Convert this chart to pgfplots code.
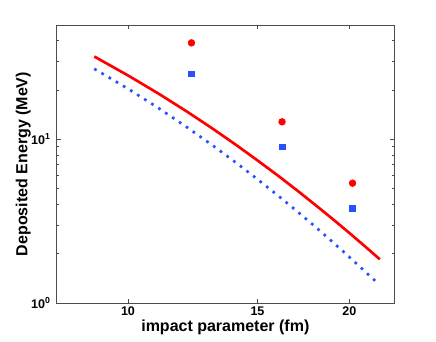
\documentclass[border=0pt]{standalone}
\usepackage{fontspec}
\setmainfont{Liberation Sans}
\usepackage{pgfplots}
\pgfplotsset{compat=1.18}
\definecolor{mred}{RGB}{255,0,0}
\definecolor{mblue}{RGB}{40,80,255}

\begin{document}
\begin{tikzpicture}
\begin{axis}[name=ax,xmode=log,ymode=log,scale only axis,width=202.4pt,height=166.8pt,
xmin=8,xmax=23,ymin=1,ymax=50,
xtick={10,15,20},xticklabels={10,15,20},xminorticks=false,
ytick={1,10},yticklabels={10\textsuperscript{0},10\textsuperscript{1}},
minor ytick={2,3,4,5,6,7,8,9,20,30,40},
axis line style={black!70,line width=0.6pt},tick style={black!70,line width=0.5pt},
major tick length=2.4pt,minor tick length=1.4pt,
tick label style={font=\bfseries\fontsize{7.5}{9}\selectfont},
xticklabel style={inner sep=1pt,yshift=-1pt},
xlabel={impact parameter (fm)},ylabel={Deposited Energy (MeV)},
label style={font=\bfseries\fontsize{9.6}{11}\selectfont},
xlabel style={at={(axis description cs:0.5,-0.087)},anchor=center,inner sep=0pt},
ylabel style={at={(axis description cs:-0.099,0.5)},anchor=center}]
% model curves
\addplot[mred,line width=1.6pt,line join=round,no markers] coordinates {(9,32.1)(10,24.6)(11,19.06)(12,14.89)(13,11.73)(14,9.31)(15,7.44)(16,6.00)(17,4.86)(18,3.96)(19,3.25)(20,2.68)(21,2.22)(22,1.85)};
\addplot[mblue,line width=1.6pt,dash pattern=on 1.6pt off 3.4pt,no markers] coordinates {(9,27.0)(10,20.4)(11,15.55)(12,11.95)(13,9.27)(14,7.25)(15,5.71)(16,4.53)(17,3.62)(18,2.91)(19,2.35)(20,1.91)(21,1.56)(21.95,1.30)};
% data points
\addplot[only marks,mark=*,mark size=2pt,mred] coordinates {(12.2,38.9)(16.2,12.8)(20.2,5.4)};
\addplot[only marks,mark=square*,mark size=1.7pt,mblue] coordinates {(12.2,25.1)(16.2,9.0)(20.2,3.8)};
\end{axis}
\pgfresetboundingbox
\path[use as bounding box] ([shift={(-34pt,-22.8pt)}]ax.south west) rectangle ([shift={(25.2pt,15pt)}]ax.north east);
\end{tikzpicture}
\end{document}
